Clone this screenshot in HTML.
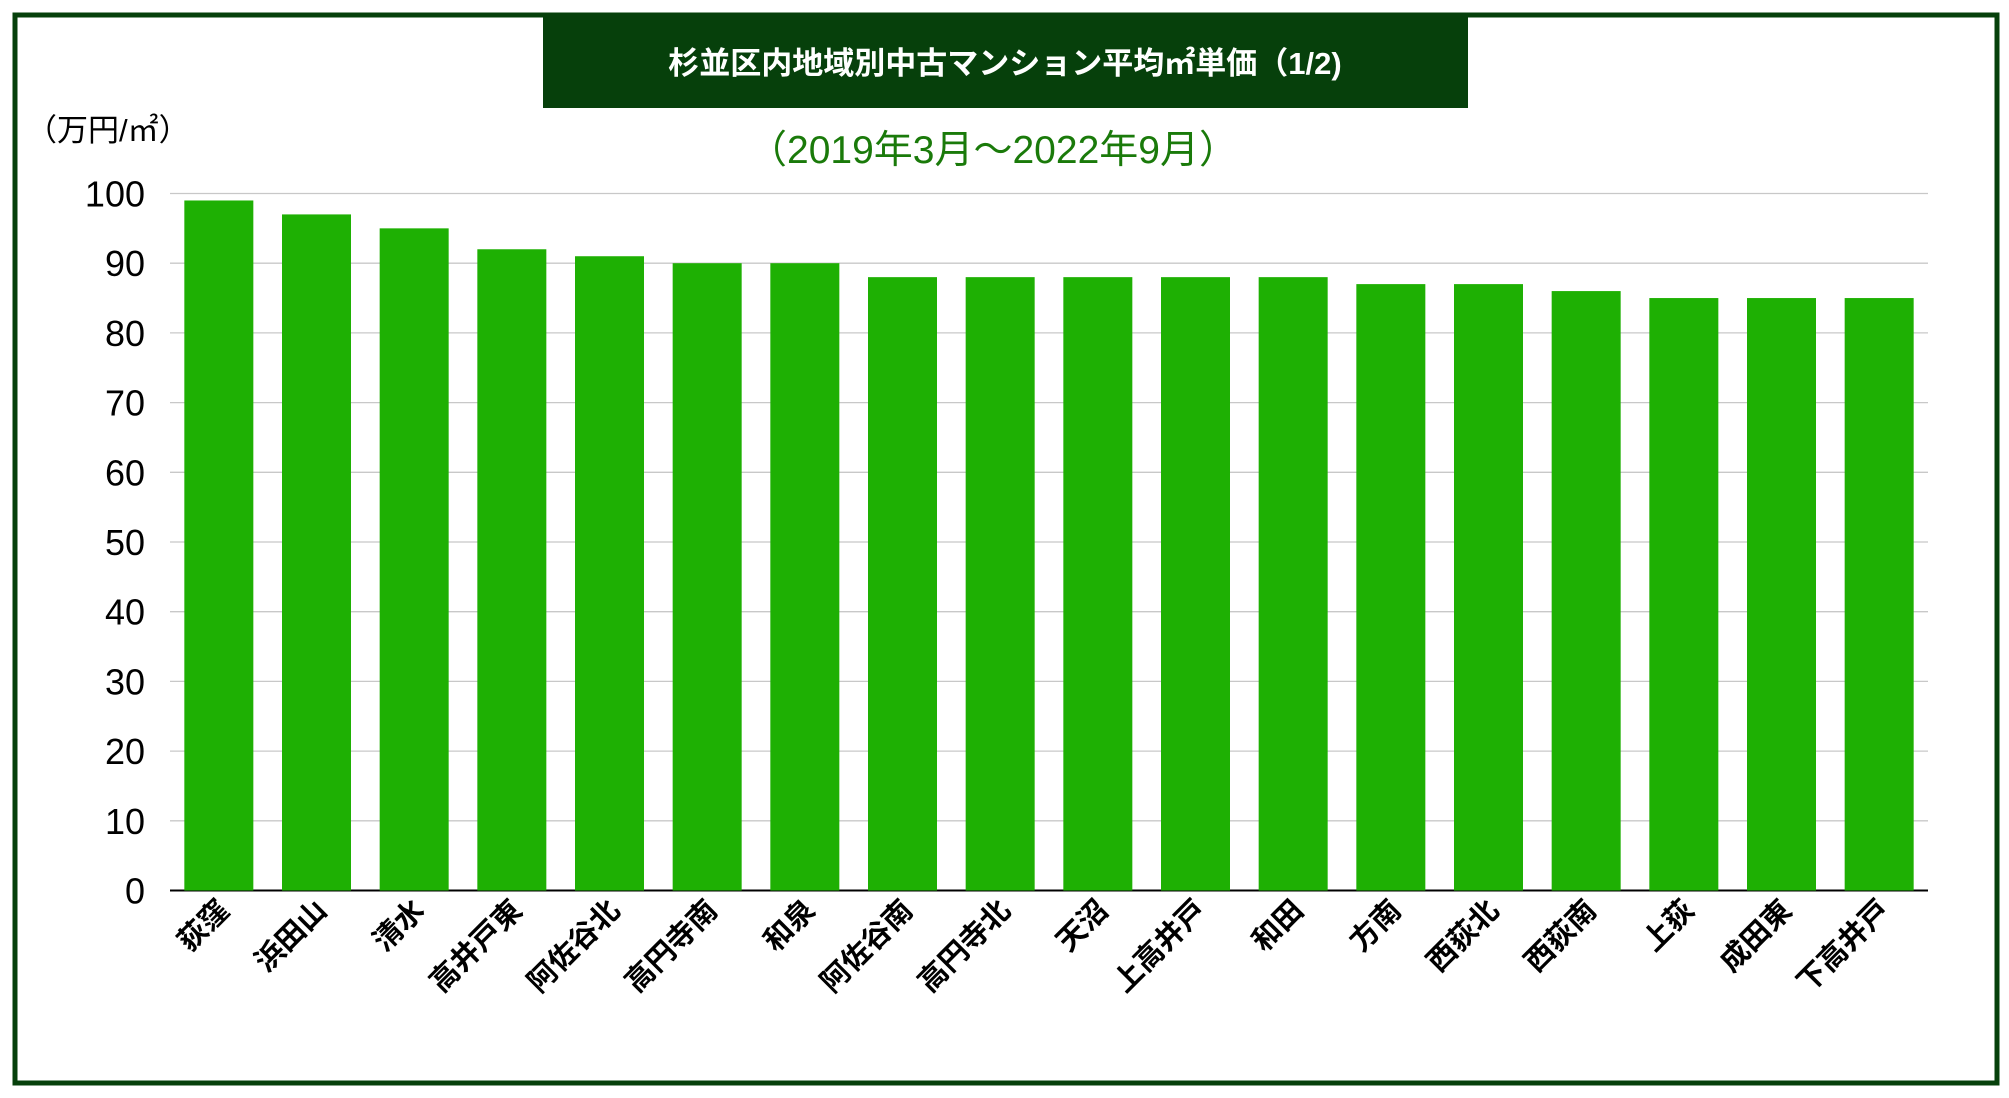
<!DOCTYPE html>
<html><head><meta charset="utf-8">
<style>
html,body{margin:0;padding:0;background:#fff;}
svg{display:block;}
</style></head>
<body>
<svg id="chart" width="2009" height="1098" viewBox="0 0 2009 1098" xmlns="http://www.w3.org/2000/svg" font-family="'Liberation Sans','Noto Sans CJK JP',sans-serif">
<rect x="15" y="15" width="1982" height="1068" fill="#fff" stroke="#06400b" stroke-width="5"/>
<rect x="543" y="17" width="925" height="91" fill="#06400b"/>
<text x="1005" y="74" text-anchor="middle" fill="#fff" font-size="31" font-weight="bold">杉並区内地域別中古マンション平均㎡単価（1/2)</text>
<text x="993" y="163" text-anchor="middle" fill="#1a7a0a" font-size="39">（2019年3月〜2022年9月）</text>
<text x="26" y="141" fill="#000" font-size="31">（万円/㎡）</text>
<g id="grid"></g><g id="bars"></g><g id="yticks"></g><g id="xlabels"></g>
</svg>
<script>
const categories = ["荻窪","浜田山","清水","高井戸東","阿佐谷北","高円寺南","和泉","阿佐谷南","高円寺北","天沼","上高井戸","和田","方南","西荻北","西荻南","上荻","成田東","下高井戸"];
const values = [99,97,95,92,91,90,90,88,88,88,88,88,87,87,86,85,85,85];
const yTicks = [0,10,20,30,40,50,60,70,80,90,100];
const NS="http://www.w3.org/2000/svg";
const X0=170,X1=1928,Y0=890.5,Y100=193.5;
const band=(X1-X0)/categories.length, barW=69;
function y(v){return Y0-(v/100)*(Y0-Y100);}
function xc(i){return X0+band*(i+0.5);}
function mk(tag,attrs,parent){const e=document.createElementNS(NS,tag);for(const k in attrs)e.setAttribute(k,attrs[k]);parent.appendChild(e);return e;}
const grid=document.getElementById('grid'),bars=document.getElementById('bars'),yt=document.getElementById('yticks'),xl=document.getElementById('xlabels');
yTicks.forEach(t=>{
  const l=mk('line',{x1:X0,x2:X1,y1:y(t),y2:y(t),stroke:t===0?'#000':'#c8c8c8','stroke-width':t===0?2:1.3},grid);
  
  
  const tx=mk('text',{x:145,y:y(t)+13,'text-anchor':'end','font-size':36,fill:'#000'},yt);
  tx.textContent=t;
  
  
});
values.forEach((v,i)=>{
  const r=mk('rect',{x:xc(i)-barW/2,y:y(v),width:barW,height:Y0-y(v),fill:'#1eb003'},bars);
  
  
  const cx=xc(i)+12, cy=912;
  const t=mk('text',{x:cx,y:cy,'text-anchor':'end','font-size':29,'font-weight':'bold',fill:'#000',transform:`rotate(-45 ${cx} ${cy})`},xl);
  t.textContent=categories[i];
  
  
});
</script>
</body></html>
